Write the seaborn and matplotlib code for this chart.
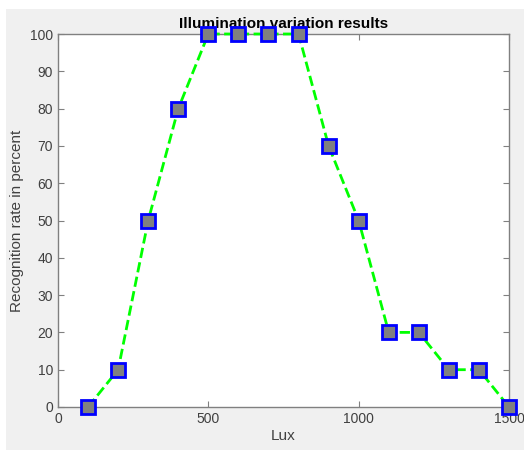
import matplotlib.pyplot as plt
import numpy as np
import pandas as pd
import seaborn as sns
from matplotlib.patches import Rectangle

lux = [100, 200, 300, 400, 500, 600, 700, 800, 900, 1000, 1100, 1200, 1300, 1400, 1500]
rate = [0, 10, 50, 80, 100, 100, 100, 100, 70, 50, 20, 20, 10, 10, 0]
x_ticks = [0, 500, 1000, 1500]
y_ticks = list(range(0, 101, 10))

sns.set_style("white")
plt.rcParams["font.family"] = ["Liberation Sans", "DejaVu Sans"]

df = pd.DataFrame({"Lux": lux, "rate": rate})

fig = plt.figure(figsize=(5.24, 4.5), dpi=100, facecolor="white")
# MATLAB-style gray figure background, leaving a thin white border top/left
fig.patches.append(Rectangle((6 / 524, 0), 1, 1 - 9 / 450,
                             transform=fig.transFigure, facecolor="#f0f0f0",
                             edgecolor="none", zorder=-10))
ax = fig.add_axes([58 / 524, 1 - 407 / 450, 451 / 524, 373 / 450])
ax.set_facecolor("white")

sns.lineplot(data=df, x="Lux", y="rate", ax=ax, color="#00ff00",
             linestyle="--", linewidth=2, marker="s", markersize=9.5,
             markerfacecolor="#808080", markeredgecolor="#0000ff",
             markeredgewidth=2, clip_on=False, zorder=5)

ax.set_xlim(0, 1500)
ax.set_ylim(0, 100)
ax.set_xticks(x_ticks)
ax.set_yticks(y_ticks)
ax.tick_params(direction="in", length=4, width=0.8, labelcolor="#404040",
               color="#808080", labelsize=10, top=True, right=True,
               bottom=True, left=True)
for s in ax.spines.values():
    s.set_color("#808080")
    s.set_linewidth(1.0)

ax.set_xlabel("Lux", fontsize=11, color="#404040", labelpad=2)
ax.set_ylabel("Recognition rate in percent", fontsize=11, color="#404040")
ax.set_title("Illumination variation results", fontsize=11, fontweight="bold",
             color="black", pad=4)

fig.savefig("out.png", dpi=100, facecolor=fig.get_facecolor())
